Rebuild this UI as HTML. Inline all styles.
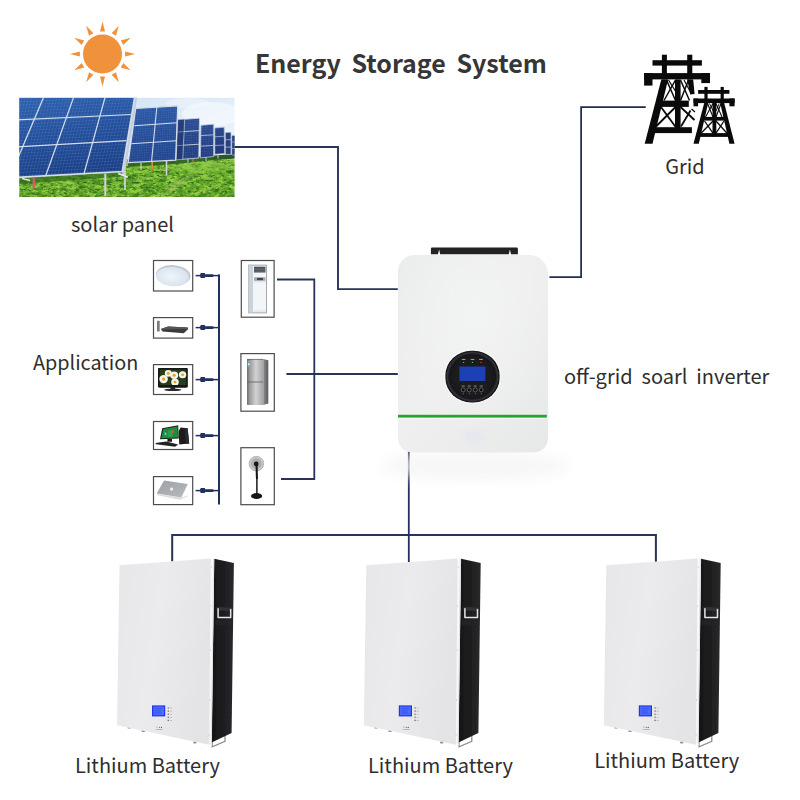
<!DOCTYPE html>
<html lang="en">
<head>
<meta charset="utf-8">
<title>Energy Storage System</title>
<style>
html,body{margin:0;padding:0;background:#fff;}
body{width:800px;height:800px;position:relative;overflow:hidden;font-family:"Noto Sans CJK SC","Liberation Sans",sans-serif;color:#2e2e2e;}
#stage{position:absolute;left:0;top:0;width:800px;height:800px;}
svg{position:absolute;left:0;top:0;display:block;}
.t{position:absolute;white-space:pre;line-height:1;font-size:20px;margin:0;}
.title{font-weight:700;font-size:25px;color:#363636;word-spacing:-0.4px;}
</style>
</head>
<body>
<div id="stage">
<svg width="800" height="800" viewBox="0 0 800 800">

<g id="sun" fill="#f0913b">
<circle cx="102.5" cy="54.0" r="19.5"/>
<polygon points="105.0,31.4 100.0,31.4 102.5,21.4"/>
<polygon points="116.0,35.7 111.6,33.2 118.8,25.8"/>
<polygon points="123.3,44.9 120.8,40.5 130.7,37.7"/>
<polygon points="125.1,56.5 125.1,51.5 135.1,54.0"/>
<polygon points="120.8,67.5 123.3,63.1 130.7,70.3"/>
<polygon points="111.6,74.8 116.0,72.3 118.8,82.2"/>
<polygon points="100.0,76.6 105.0,76.6 102.5,86.6"/>
<polygon points="89.0,72.3 93.4,74.8 86.2,82.2"/>
<polygon points="81.7,63.1 84.2,67.5 74.3,70.3"/>
<polygon points="79.9,51.5 79.9,56.5 69.9,54.0"/>
<polygon points="84.2,40.5 81.7,44.9 74.3,37.7"/>
<polygon points="93.4,33.2 89.0,35.7 86.2,25.8"/>
</g>
<defs>
<clipPath id="photoClip"><rect x="19.2" y="97.6" width="215.5" height="99.4"/></clipPath>
<linearGradient id="sky" x1="0" y1="0" x2="1" y2="1">
<stop offset="0" stop-color="#c9dff2"/><stop offset="0.5" stop-color="#dfecf7"/><stop offset="1" stop-color="#f6f9fc"/></linearGradient>
<linearGradient id="grass" x1="0" y1="0" x2="0" y2="1">
<stop offset="0" stop-color="#8ac443"/><stop offset="0.35" stop-color="#64a92c"/><stop offset="1" stop-color="#559a26"/></linearGradient>
<linearGradient id="pv1" x1="0" y1="0" x2="0.25" y2="1">
<stop offset="0" stop-color="#2f62b0"/><stop offset="0.5" stop-color="#24509c"/><stop offset="1" stop-color="#1b3f86"/></linearGradient>
<linearGradient id="pv2" x1="0" y1="0" x2="0.1" y2="1">
<stop offset="0" stop-color="#2b58a4"/><stop offset="1" stop-color="#20448c"/></linearGradient>
<linearGradient id="pv3" x1="0" y1="0" x2="0" y2="1">
<stop offset="0" stop-color="#2a4a90"/><stop offset="1" stop-color="#213a7a"/></linearGradient>
<filter id="soft" x="-2%" y="-2%" width="104%" height="104%"><feGaussianBlur stdDeviation="0.35"/></filter>
<filter id="grassTex" x="0" y="0" width="100%" height="100%" color-interpolation-filters="sRGB">
<feTurbulence type="fractalNoise" baseFrequency="0.3 0.42" numOctaves="3" seed="7" result="n"/>
<feColorMatrix in="n" type="matrix" values="0 0 0 0 0.64  0 0 0 0 0.85  0 0 0 0 0.30  3.0 0 0 0 -1.5" result="c"/>
<feComposite in="c" in2="SourceGraphic" operator="in"/>
</filter>
<filter id="grassTex2" x="0" y="0" width="100%" height="100%" color-interpolation-filters="sRGB">
<feTurbulence type="fractalNoise" baseFrequency="0.25 0.45" numOctaves="3" seed="23" result="n"/>
<feColorMatrix in="n" type="matrix" values="0 0 0 0 0.18  0 0 0 0 0.40  0 0 0 0 0.10  0 3.2 0 0 -1.6" result="c"/>
<feComposite in="c" in2="SourceGraphic" operator="in"/>
</filter>
<filter id="grassTex3" x="0" y="0" width="100%" height="100%" color-interpolation-filters="sRGB">
<feTurbulence type="fractalNoise" baseFrequency="0.07 0.16" numOctaves="2" seed="5" result="n"/>
<feColorMatrix in="n" type="matrix" values="0 0 0 0 0.17  0 0 0 0 0.43  0 0 0 0 0.09  0 0 3.4 0 -1.75" result="c"/>
<feComposite in="c" in2="SourceGraphic" operator="in"/>
</filter>
<filter id="grassTex4" x="0" y="0" width="100%" height="100%" color-interpolation-filters="sRGB">
<feTurbulence type="fractalNoise" baseFrequency="0.09 0.2" numOctaves="2" seed="41" result="n"/>
<feColorMatrix in="n" type="matrix" values="0 0 0 0 0.56  0 0 0 0 0.80  0 0 0 0 0.25  3.6 0 0 0 -1.55" result="c"/>
<feComposite in="c" in2="SourceGraphic" operator="in"/>
</filter>
<pattern id="cells" width="3.2" height="3.2" patternUnits="userSpaceOnUse" patternTransform="rotate(-3) skewX(-16)">
<path d="M0 0H3.2M0 0V3.2" stroke="#6b95d4" stroke-width="0.45" fill="none" opacity="0.75"/></pattern>
<pattern id="cells2" width="2.4" height="2.4" patternUnits="userSpaceOnUse" patternTransform="rotate(-3.5)">
<path d="M0 0H2.4M0 0V2.4" stroke="#6b95d4" stroke-width="0.4" fill="none" opacity="0.6"/></pattern>
</defs>
<g id="solarphoto" clip-path="url(#photoClip)"><g filter="url(#soft)">
<rect x="19.2" y="97.6" width="215.5" height="70" fill="url(#sky)"/>
<ellipse cx="212" cy="114" rx="30" ry="12" fill="#ffffff" opacity="0.45"/>
<ellipse cx="188" cy="103" rx="22" ry="5" fill="#ffffff" opacity="0.3"/>
<polygon points="125,160 176,158.5 200,156.5 234.7,154 234.7,158.5 200,161.5 176,163.5 125,166" fill="#2f5f24"/>
<rect x="19.2" y="159.3" width="215.5" height="40" fill="url(#grass)"/>
<rect x="19.2" y="159.3" width="215.5" height="40" fill="#fff" filter="url(#grassTex3)"/>
<rect x="19.2" y="159.3" width="215.5" height="40" fill="#fff" filter="url(#grassTex4)"/>
<rect x="19.2" y="159.3" width="215.5" height="40" fill="#fff" filter="url(#grassTex)"/>
<rect x="19.2" y="159.3" width="215.5" height="40" fill="#fff" filter="url(#grassTex2)"/>
<ellipse cx="176" cy="186" rx="16" ry="2.6" fill="#a9bf70" opacity="0.45" transform="rotate(-38 176 186)"/>
<ellipse cx="205" cy="167" rx="30" ry="5" fill="#93cb4a" opacity="0.45"/>
<polygon points="19.2,178 122,172.5 128,176 19.2,184" fill="#2f6a1e" opacity="0.7"/>
<polygon points="128,162 176,159.8 199,157.8 231,154.5 234.7,154.5 234.7,158.2 199,161.6 176,164 128,167" fill="#2a5a20" opacity="0.85"/>
<polygon points="231.7,135.5 236.0,135.4 236.0,155.0 231.7,155.0" fill="#2a447f"/>
<line x1="231.7" y1="142.0" x2="236.0" y2="142.0" stroke="#b9c6da" stroke-width="0.60"/>
<line x1="231.7" y1="148.5" x2="236.0" y2="148.5" stroke="#b9c6da" stroke-width="0.60"/>
<polygon points="231.7,135.5 236.0,135.4 236.0,155.0 231.7,155.0" fill="none" stroke="#b9c6da" stroke-width="0.6"/>
<polygon points="225.3,132.5 231.0,132.2 231.0,154.4 225.3,154.4" fill="#27427f"/>
<line x1="225.3" y1="139.8" x2="231.0" y2="139.6" stroke="#c3cfe0" stroke-width="0.70"/>
<line x1="225.3" y1="147.2" x2="231.0" y2="147.0" stroke="#c3cfe0" stroke-width="0.70"/>
<polygon points="225.3,132.5 231.0,132.2 231.0,154.4 225.3,154.4" fill="none" stroke="#c3cfe0" stroke-width="0.7"/>
<polygon points="214.8,128.0 224.2,127.2 224.7,153.6 214.8,154.3" fill="url(#pv3)"/>
<line x1="214.8" y1="136.8" x2="224.4" y2="136.2" stroke="#b9c6da" stroke-width="0.70"/>
<line x1="214.8" y1="145.5" x2="224.5" y2="145.0" stroke="#b9c6da" stroke-width="0.70"/>
<polygon points="214.8,128.0 224.2,127.2 224.7,153.6 214.8,154.3" fill="none" stroke="#b9c6da" stroke-width="0.7"/>
<polygon points="201.0,125.3 213.7,124.2 213.7,156.5 200.3,158.0" fill="url(#pv3)"/>
<polygon points="201.0,125.3 213.7,124.2 213.7,156.5 200.3,158.0" fill="url(#cells2)"/>
<line x1="200.8" y1="135.6" x2="213.7" y2="134.8" stroke="#bfcbde" stroke-width="0.80"/>
<line x1="200.5" y1="146.2" x2="213.7" y2="145.4" stroke="#bfcbde" stroke-width="0.80"/>
<polygon points="201.0,125.3 213.7,124.2 213.7,156.5 200.3,158.0" fill="none" stroke="#bfcbde" stroke-width="0.8"/>
<polygon points="177.7,119.7 199.5,118.2 198.8,158.0 176.2,159.8" fill="url(#pv3)"/>
<polygon points="177.7,119.7 199.5,118.2 198.8,158.0 176.2,159.8" fill="url(#cells2)"/>
<line x1="184.6" y1="119.3" x2="182.6" y2="159.4" stroke="#c6d1e2" stroke-width="0.90"/>
<line x1="177.3" y1="132.0" x2="199.3" y2="130.6" stroke="#c6d1e2" stroke-width="0.90"/>
<line x1="176.8" y1="145.6" x2="199.0" y2="144.2" stroke="#c6d1e2" stroke-width="0.90"/>
<polygon points="177.7,119.7 199.5,118.2 198.8,158.0 176.2,159.8" fill="none" stroke="#c6d1e2" stroke-width="0.9"/>
<polygon points="177.7,119.7 184.6,119.3 182.6,159.4 176.2,159.8" fill="#1a2c5e" opacity="0.45"/>
<line x1="188" y1="158.5" x2="188" y2="163.5" stroke="#c4cacf" stroke-width="1"/>
<line x1="193" y1="158.5" x2="193" y2="163.5" stroke="#d9745e" stroke-width="1"/>
<line x1="206" y1="157.5" x2="206" y2="161.5" stroke="#c4cacf" stroke-width="1"/>
<line x1="218" y1="154.5" x2="218" y2="158.5" stroke="#c4cacf" stroke-width="1"/>
<polygon points="135.7,108.5 177.7,105.8 175.6,160.2 128.2,162.5" fill="url(#pv2)"/>
<polygon points="135.7,108.5 177.7,105.8 175.6,160.2 128.2,162.5" fill="url(#cells2)"/>
<line x1="156.8" y1="107.2" x2="151.6" y2="161.3" stroke="#d3ddec" stroke-width="1.10"/>
<line x1="134.2" y1="125.8" x2="177.0" y2="122.8" stroke="#d3ddec" stroke-width="1.10"/>
<line x1="131.2" y1="143.8" x2="176.3" y2="140.8" stroke="#d3ddec" stroke-width="1.10"/>
<polygon points="135.7,108.5 177.7,105.8 175.6,160.2 128.2,162.5" fill="none" stroke="#d3ddec" stroke-width="1.2"/>
<line x1="152.2" y1="162" x2="152.2" y2="169.5" stroke="#e8893f" stroke-width="1.6"/>
<line x1="166.5" y1="161" x2="166.5" y2="175.5" stroke="#d4d8db" stroke-width="1.5"/>
<line x1="141" y1="162.5" x2="141" y2="170" stroke="#c9ced2" stroke-width="1.2"/>
<polygon points="134.6,97 137.2,97 124.6,176 121.8,176" fill="#c3ccd9"/>
<polygon points="14.0,97.0 134.7,97.0 122.2,171.5 14.0,177.5" fill="url(#pv1)"/>
<polygon points="14.0,97.0 134.7,97.0 122.2,171.5 14.0,177.5" fill="url(#cells)"/>
<line x1="43.5" y1="97.6" x2="17.5" y2="159.0" stroke="#d3ddec" stroke-width="1.25"/>
<line x1="73.5" y1="97.6" x2="45.7" y2="175.8" stroke="#d3ddec" stroke-width="1.25"/>
<line x1="105.0" y1="97.6" x2="84.0" y2="173.7" stroke="#d3ddec" stroke-width="1.25"/>
<line x1="14.0" y1="120.0" x2="130.9" y2="114.5" stroke="#d3ddec" stroke-width="1.25"/>
<line x1="14.0" y1="147.0" x2="126.4" y2="140.7" stroke="#d3ddec" stroke-width="1.25"/>
<polygon points="14.0,97.0 134.7,97.0 122.2,171.5 14.0,177.5" fill="none" stroke="#d3ddec" stroke-width="1.6"/>
<line x1="33.8" y1="177.5" x2="33.8" y2="188.5" stroke="#e2566a" stroke-width="2.2"/>
<line x1="105.3" y1="173.5" x2="105.3" y2="196" stroke="#cfd4d8" stroke-width="2"/>
<line x1="125" y1="171" x2="125" y2="190" stroke="#cdd2d6" stroke-width="1.8"/>
<polygon points="118.5,172.5 128,176.2 127.5,178 118,174.2" fill="#e6e9eb"/>
<line x1="22" y1="178.5" x2="30" y2="180.5" stroke="#dfe3e6" stroke-width="1.6"/>
</g></g>
<g id="wires" fill="none" stroke-linejoin="miter">
<path d="M234.6 147H338V289.1H397.8" stroke-width="1.9" stroke="#2a3455"/>
<path d="M549.4 277.2H581.1V107H645.8" stroke-width="1.75" stroke="#212d50"/>
<path d="M277 279.5H314.3V479H281" stroke-width="1.8" stroke="#283356"/>
<path d="M286.4 374H397.8" stroke-width="1.8" stroke="#283356"/>
<path d="M219 274.4V504.5" stroke-width="2.05" stroke="#212f5c"/>
<path d="M172.2 561.5V535.05H655.9V562" stroke-width="2" stroke="#2a3456"/>
<path d="M408.8 450V562" stroke-width="1.8" stroke="#262f5c"/>
</g>
<g id="plugs" fill="#223060" stroke="none">
<rect x="195.6" y="274.85" width="24" height="1.5"/>
<rect x="200.2" y="273.1" width="5.2" height="5" rx="1.3"/>
<rect x="205" y="274.2" width="8.6" height="2.8" rx="1.2"/>
<rect x="195.6" y="326.85" width="24" height="1.5"/>
<rect x="200.2" y="325.1" width="5.2" height="5" rx="1.3"/>
<rect x="205" y="326.2" width="8.6" height="2.8" rx="1.2"/>
<rect x="195.6" y="378.85" width="24" height="1.5"/>
<rect x="200.2" y="377.1" width="5.2" height="5" rx="1.3"/>
<rect x="205" y="378.2" width="8.6" height="2.8" rx="1.2"/>
<rect x="195.6" y="434.85" width="24" height="1.5"/>
<rect x="200.2" y="433.1" width="5.2" height="5" rx="1.3"/>
<rect x="205" y="434.2" width="8.6" height="2.8" rx="1.2"/>
<rect x="195.6" y="489.85" width="24" height="1.5"/>
<rect x="200.2" y="488.1" width="5.2" height="5" rx="1.3"/>
<rect x="205" y="489.2" width="8.6" height="2.8" rx="1.2"/>
</g>
<defs>
<linearGradient id="fridgeF" x1="0" y1="0" x2="1" y2="0"><stop offset="0" stop-color="#6e6e70"/><stop offset="0.18" stop-color="#9d9d9f"/><stop offset="0.55" stop-color="#d2d2d4"/><stop offset="1" stop-color="#a4a4a6"/></linearGradient>
<linearGradient id="fridgeS" x1="0" y1="0" x2="1" y2="0"><stop offset="0" stop-color="#8c8c8e"/><stop offset="1" stop-color="#5c5c5e"/></linearGradient>
<radialGradient id="lampG" cx="0.45" cy="0.5" r="0.6"><stop offset="0" stop-color="#eef4fa"/><stop offset="0.8" stop-color="#dbe5f0"/><stop offset="1" stop-color="#c9d2dc"/></radialGradient>
<radialGradient id="fanG" cx="0.5" cy="0.5" r="0.5"><stop offset="0" stop-color="#6e6e6e"/><stop offset="0.45" stop-color="#9a9a9a"/><stop offset="0.8" stop-color="#bdbdbd"/><stop offset="1" stop-color="#d6d6d6"/></radialGradient>
<linearGradient id="lapG" x1="0" y1="0" x2="1" y2="1"><stop offset="0" stop-color="#9ea2a6"/><stop offset="1" stop-color="#b6babd"/></linearGradient>
<filter id="soft2" x="-5%" y="-5%" width="110%" height="110%"><feGaussianBlur stdDeviation="0.3"/></filter>
</defs>
<g id="appliances">
<rect x="153.5" y="260.5" width="39.2" height="30.5" fill="#fff" stroke="#4c4c4c" stroke-width="1.2"/>
<rect x="153.5" y="317.6" width="39.2" height="20.5" fill="#fff" stroke="#4c4c4c" stroke-width="1.2"/>
<rect x="153.5" y="364.6" width="39.2" height="29.9" fill="#fff" stroke="#4c4c4c" stroke-width="1.2"/>
<rect x="153.5" y="421.5" width="39.2" height="28.0" fill="#fff" stroke="#4c4c4c" stroke-width="1.2"/>
<rect x="153.5" y="476.6" width="39.2" height="28.0" fill="#fff" stroke="#4c4c4c" stroke-width="1.2"/>
<rect x="241.3" y="260.5" width="32.8" height="56.7" fill="#fff" stroke="#4c4c4c" stroke-width="1.2"/>
<rect x="240.9" y="353.6" width="33.4" height="57.6" fill="#fff" stroke="#4c4c4c" stroke-width="1.2"/>
<rect x="240.9" y="447.7" width="33.4" height="57.0" fill="#fff" stroke="#4c4c4c" stroke-width="1.2"/>
<g filter="url(#soft2)">
<ellipse cx="173.2" cy="275.4" rx="17.3" ry="10.3" fill="#c4c8cc" transform="rotate(4 173.2 275.4)"/>
<ellipse cx="172.7" cy="276.6" rx="16.6" ry="9.6" fill="url(#lampG)" transform="rotate(4 172.7 276.6)"/>
<rect x="157" y="320.8" width="2.7" height="10.6" rx="0.5" fill="#7b7b7d"/>
<polygon points="160.9,328.9 168.1,326.6 187.6,327.5 188.2,328.9 183.8,333.3 162.5,331.5" fill="#3b3b3e"/>
<polygon points="160.9,328.9 168.1,326.6 187.6,327.5 188.2,328.9 162,329.6" fill="#55555a"/>
<rect x="158" y="368.1" width="29.8" height="19.4" rx="0.8" fill="#131313"/>
<rect x="159.6" y="369.6" width="26.6" height="15.4" fill="#2f4a22"/>
<rect x="159.6" y="369.6" width="26.6" height="15.4" fill="#1b2614" opacity="0.35"/>
<ellipse cx="163.6" cy="379.1" rx="4.3" ry="4.08" fill="#f4f4ee"/>
<circle cx="163.6" cy="379.1" r="1.63" fill="#e9a21a"/>
<ellipse cx="168.3" cy="373.4" rx="3.5" ry="3.32" fill="#f4f4ee"/>
<circle cx="168.3" cy="373.4" r="1.33" fill="#e9a21a"/>
<ellipse cx="174.2" cy="375.3" rx="4.0" ry="3.80" fill="#f4f4ee"/>
<circle cx="174.2" cy="375.3" r="1.52" fill="#e9a21a"/>
<ellipse cx="175" cy="382.1" rx="3.8" ry="3.61" fill="#f4f4ee"/>
<circle cx="175" cy="382.1" r="1.44" fill="#e9a21a"/>
<ellipse cx="182.6" cy="374.8" rx="3.7" ry="3.52" fill="#f4f4ee"/>
<circle cx="182.6" cy="374.8" r="1.41" fill="#e9a21a"/>
<rect x="159.6" y="385" width="26.6" height="2.5" fill="#131313"/>
<rect x="170.5" y="387.3" width="4.6" height="2" fill="#1d1d1d"/>
<ellipse cx="172.8" cy="389.8" rx="8.8" ry="1.3" fill="#2a2a2a"/>
<polygon points="162.2,428.2 178.2,425.3 178.8,438.6 160,439.2" fill="#16251a"/>
<polygon points="163.2,429 177.5,426.4 178,437.6 161.2,438.2" fill="#1f8c3e"/>
<polygon points="168,431 172.5,430.3 172.7,436.8 168.2,437.2" fill="#2aa350"/>
<rect x="171.4" y="429.8" width="2.3" height="3.2" fill="#d8524a"/>
<rect x="164.6" y="432.6" width="1.8" height="2.6" fill="#7fb7d8"/>
<polygon points="167.5,439 172,438.9 172,441.8 167.3,441.8" fill="#1b1b1b"/>
<polygon points="180.6,427.5 187.6,428.2 189.2,443.4 179.2,444.4 178.8,431" fill="#1b1b1d"/>
<polygon points="184.5,428 187.6,428.2 189.2,443.4 186,443.8" fill="#2c2c30"/>
<polygon points="155.3,442.9 166.3,441.5 178.2,444.4 175,446.7 156.2,444.2" fill="#222226"/>
<polygon points="156.8,494 181.3,497.8 187.8,495.6 188.5,496 180.2,499.8 157.4,495.2" fill="#d9dcdf"/>
<polygon points="164.1,480.4 187.8,484.1 181.3,497.6 156.6,493.5" fill="url(#lapG)"/>
<ellipse cx="171.6" cy="489.1" rx="1.4" ry="1.7" fill="#f4f4f4" transform="rotate(20 171.6 489.1)"/>
<rect x="248.4" y="265.1" width="18" height="47.8" fill="#f3f6f9" stroke="#8e949c" stroke-width="0.8"/>
<polygon points="248.4,265.1 253,266 253,312 248.4,312.9" fill="#ccd2da"/>
<rect x="254" y="266.7" width="11.4" height="5.8" fill="#474a50"/>
<path d="M254 268.2H265.4M254 269.7H265.4M254 271.2H265.4" stroke="#8d9096" stroke-width="0.45"/>
<rect x="254" y="277.3" width="11.4" height="3.5" fill="#a2a6ab"/>
<rect x="257" y="277.9" width="6" height="2.2" fill="#44474c"/>
<path d="M253.6 281.8H266M253.6 311H266" stroke="#c3c8ce" stroke-width="0.5"/>
<polygon points="263.2,359 268.3,360.2 268.3,403.4 263.2,405" fill="url(#fridgeS)"/>
<rect x="247" y="359" width="16.2" height="46" rx="0.8" fill="url(#fridgeF)"/>
<path d="M247 382H263.2" stroke="#5e5e60" stroke-width="0.8"/>
<path d="M247.2 359.4H263.2" stroke="#5a5a5c" stroke-width="0.7"/>
<rect x="247.6" y="361" width="2.4" height="6" rx="1" fill="#5fbfb4"/>
<rect x="248" y="363.6" width="1.6" height="1.4" fill="#f2f2f2"/>
<circle cx="256.4" cy="463.7" r="7.6" fill="url(#fanG)" opacity="0.8"/>
<circle cx="256.4" cy="463.7" r="7.3" fill="none" stroke="#8a8a8a" stroke-width="0.5"/>
<circle cx="256.4" cy="463.7" r="4.8" fill="none" stroke="#8a8a8a" stroke-width="0.4"/>
<circle cx="256.2" cy="463.9" r="2.3" fill="#141414"/>
<path d="M256.6 465.5L256.9 478" stroke="#121212" stroke-width="2.0" stroke-linecap="round"/>
<path d="M256.9 477V494.5" stroke="#141414" stroke-width="1.45"/>
<ellipse cx="256.6" cy="496" rx="5.6" ry="3" fill="#161616"/>
</g></g>
<defs>
<linearGradient id="invBody" x1="0" y1="0" x2="1" y2="1"><stop offset="0" stop-color="#eaebeb"/><stop offset="0.45" stop-color="#efefef"/><stop offset="1" stop-color="#e7e8e8"/></linearGradient>
<radialGradient id="invHi" cx="0.5" cy="0.3" r="0.6"><stop offset="0" stop-color="#f2f3f3"/><stop offset="1" stop-color="#f2f3f3" stop-opacity="0"/></radialGradient>
<radialGradient id="dispG" cx="0.5" cy="0.5" r="0.5"><stop offset="0" stop-color="#1d1d1f"/><stop offset="0.86" stop-color="#19191b"/><stop offset="0.93" stop-color="#34343a"/><stop offset="1" stop-color="#0e0e10"/></radialGradient>
<filter id="invShadow" x="-20%" y="-100%" width="140%" height="300%"><feGaussianBlur stdDeviation="7"/></filter>
<filter id="spot" x="-50%" y="-50%" width="200%" height="200%"><feGaussianBlur stdDeviation="2.5"/></filter>
<filter id="soft3" x="-5%" y="-5%" width="110%" height="110%"><feGaussianBlur stdDeviation="0.35"/></filter>
</defs>
<g id="inverter">
<ellipse cx="475" cy="466" rx="95" ry="14" fill="#f4f4f4" filter="url(#invShadow)" opacity="0.8"/>
<path d="M432 247.5H516.8Q517.9 247.5 517.9 248.7V254.2H511L509.9 249.6L508.8 254.2H440.2L439.1 249.6L438 254.2H430.9V248.7Q430.9 247.5 432 247.5Z" fill="#232325"/>
<path d="M414.5 254.9H529A19 19 0 0 1 548 273.9V438.6A13.8 13.8 0 0 1 534.2 452.4H411.8A13.8 13.8 0 0 1 398 438.6V271.4A16.5 16.5 0 0 1 414.5 254.9Z" fill="url(#invBody)"/>
<path d="M414.5 254.9H529A19 19 0 0 1 548 273.9V438.6A13.8 13.8 0 0 1 534.2 452.4H411.8A13.8 13.8 0 0 1 398 438.6V271.4A16.5 16.5 0 0 1 414.5 254.9Z" fill="url(#invHi)"/>
<ellipse cx="474" cy="437" rx="10" ry="7" fill="#e4e6ee" filter="url(#spot)" opacity="0.7"/>
<rect x="398" y="417.4" width="150" height="1.3" fill="#fafafa"/>
<rect x="398" y="414.8" width="148.8" height="2.8" fill="#26a52c"/>
<g filter="url(#soft3)">
<rect x="444.3" y="349.8" width="56.4" height="53.6" rx="27" ry="25.5" fill="#fbfbfb"/>
<rect x="445.4" y="350.8" width="54.2" height="51.6" rx="26" ry="24.5" fill="url(#dispG)"/>
<rect x="459.4" y="366.4" width="26" height="14.6" rx="0.6" fill="#1f3fb6"/>
<rect x="461.8" y="358.9" width="3.6" height="1" fill="#c8c8c8" opacity="0.8"/>
<rect x="470.7" y="358.9" width="3.6" height="1" fill="#c8c8c8" opacity="0.8"/>
<rect x="479.2" y="358.9" width="3.6" height="1" fill="#c8c8c8" opacity="0.8"/>
<circle cx="463.6" cy="362.4" r="0.7" fill="#39d34c"/><circle cx="472.5" cy="362.4" r="0.7" fill="#39d34c"/><circle cx="481" cy="362.4" r="0.7" fill="#e0432f"/>
<rect x="461.59999999999997" y="385.6" width="3.2" height="0.9" fill="#bdbdbd" opacity="0.75"/>
<circle cx="463.2" cy="389.9" r="2" fill="#0c0c0c" stroke="#8c8c8c" stroke-width="0.6"/>
<circle cx="463.2" cy="393.8" r="0.5" fill="#bbb" opacity="0.8"/>
<rect x="467.59999999999997" y="385.6" width="3.2" height="0.9" fill="#bdbdbd" opacity="0.75"/>
<circle cx="469.2" cy="389.9" r="2" fill="#0c0c0c" stroke="#8c8c8c" stroke-width="0.6"/>
<circle cx="469.2" cy="393.8" r="0.5" fill="#bbb" opacity="0.8"/>
<rect x="473.59999999999997" y="385.6" width="3.2" height="0.9" fill="#bdbdbd" opacity="0.75"/>
<circle cx="475.2" cy="389.9" r="2" fill="#0c0c0c" stroke="#8c8c8c" stroke-width="0.6"/>
<circle cx="475.2" cy="393.8" r="0.5" fill="#bbb" opacity="0.8"/>
<rect x="479.59999999999997" y="385.6" width="3.2" height="0.9" fill="#bdbdbd" opacity="0.75"/>
<circle cx="481.2" cy="389.9" r="2" fill="#0c0c0c" stroke="#8c8c8c" stroke-width="0.6"/>
<circle cx="481.2" cy="393.8" r="0.5" fill="#bbb" opacity="0.8"/>
</g>
</g>
<g id="towers" fill="#0a0a0a" stroke="none">
<rect x="661.9" y="54.7" width="5.0" height="24.7"/>
<rect x="687.2" y="54.7" width="5.1" height="24.7"/>
<rect x="652.5" y="60.2" width="49.4" height="5.4"/>
<rect x="644.1" y="73.1" width="65.9" height="6.3"/>
<rect x="644.1" y="73.1" width="8.4" height="12.5"/>
<rect x="701.3" y="73.1" width="8.7" height="10.0"/>
<polygon points="661.3,79.4 668.1,79.4 652.5,143.8 644.7,143.8"/>
<polygon points="687.2,79.4 693.2,79.4 694.6,94.0 690.2,94.5"/>
<rect x="675.0" y="79.4" width="5.6" height="53.6"/>
<rect x="660.0" y="100.6" width="28.8" height="6.3"/>
<rect x="653.7" y="127.2" width="38.2" height="5.9"/>
<line x1="666.5" y1="80.0" x2="675.5" y2="100.5" stroke="#0a0a0a" stroke-width="1.50"/>
<line x1="675.5" y1="80.0" x2="664.0" y2="100.5" stroke="#0a0a0a" stroke-width="1.50"/>
<line x1="668.5" y1="80.0" x2="676.0" y2="92.0" stroke="#0a0a0a" stroke-width="1.20"/>
<line x1="680.5" y1="80.0" x2="689.5" y2="100.5" stroke="#0a0a0a" stroke-width="1.50"/>
<line x1="688.5" y1="80.0" x2="680.5" y2="100.5" stroke="#0a0a0a" stroke-width="1.50"/>
<line x1="684.0" y1="80.0" x2="691.0" y2="93.0" stroke="#0a0a0a" stroke-width="1.20"/>
<line x1="661.0" y1="107.0" x2="676.0" y2="127.5" stroke="#0a0a0a" stroke-width="1.80"/>
<line x1="675.5" y1="107.0" x2="656.0" y2="126.5" stroke="#0a0a0a" stroke-width="1.80"/>
<line x1="680.5" y1="107.0" x2="694.5" y2="120.0" stroke="#0a0a0a" stroke-width="1.80"/>
<line x1="690.5" y1="110.5" x2="681.0" y2="126.5" stroke="#0a0a0a" stroke-width="1.80"/>
<line x1="691.5" y1="109.0" x2="695.0" y2="112.0" stroke="#0a0a0a" stroke-width="1.20"/>
<rect x="704.4" y="86.9" width="3.2" height="16.1"/>
<rect x="720.6" y="86.9" width="3.2" height="16.1"/>
<rect x="698.1" y="90.0" width="31.3" height="3.8"/>
<rect x="693.5" y="98.5" width="41.1" height="4.6"/>
<rect x="693.5" y="98.5" width="4.6" height="7.8"/>
<rect x="729.4" y="98.5" width="5.2" height="7.8"/>
<polygon points="704.2,103.0 708.2,103.0 698.8,143.8 693.5,143.8"/>
<polygon points="720.2,103.0 724.2,103.0 734.6,143.8 729.4,143.8"/>
<rect x="712.5" y="103.0" width="3.8" height="33.5"/>
<rect x="702.5" y="116.9" width="23.8" height="3.7"/>
<rect x="698.1" y="133.1" width="31.9" height="3.8"/>
<line x1="707.5" y1="103.5" x2="713.0" y2="117.0" stroke="#0a0a0a" stroke-width="1.10"/>
<line x1="713.0" y1="103.5" x2="705.5" y2="117.0" stroke="#0a0a0a" stroke-width="1.10"/>
<line x1="716.0" y1="103.5" x2="722.0" y2="117.0" stroke="#0a0a0a" stroke-width="1.10"/>
<line x1="721.0" y1="103.5" x2="716.0" y2="117.0" stroke="#0a0a0a" stroke-width="1.10"/>
<line x1="709.5" y1="103.5" x2="713.2" y2="111.0" stroke="#0a0a0a" stroke-width="0.90"/>
<line x1="719.2" y1="103.5" x2="716.0" y2="111.0" stroke="#0a0a0a" stroke-width="0.90"/>
<line x1="704.5" y1="121.0" x2="713.0" y2="133.2" stroke="#0a0a0a" stroke-width="1.30"/>
<line x1="713.0" y1="121.0" x2="701.0" y2="133.2" stroke="#0a0a0a" stroke-width="1.30"/>
<line x1="716.0" y1="121.0" x2="727.0" y2="133.2" stroke="#0a0a0a" stroke-width="1.30"/>
<line x1="724.0" y1="121.0" x2="716.0" y2="133.2" stroke="#0a0a0a" stroke-width="1.30"/>
</g>
<defs>
<linearGradient id="batF" x1="0" y1="0" x2="1" y2="0.3"><stop offset="0" stop-color="#e7e7ea"/><stop offset="0.5" stop-color="#ebebed"/><stop offset="1" stop-color="#e4e4e7"/></linearGradient>
<linearGradient id="batS" x1="0" y1="0" x2="1" y2="0"><stop offset="0" stop-color="#161617"/><stop offset="0.6" stop-color="#1f1f21"/><stop offset="1" stop-color="#2a2a2c"/></linearGradient>
<filter id="soft4" x="-5%" y="-5%" width="110%" height="110%"><feGaussianBlur stdDeviation="0.3"/></filter>
</defs>
<g id="batteries">
<g transform="translate(0 0)" filter="url(#soft4)">
<rect x="127.70000000000002" y="726.6" width="3.2" height="2" rx="0.6" fill="#8f9094"/>
<rect x="141.70000000000002" y="730" width="3.2" height="2" rx="0.6" fill="#8f9094"/>
<rect x="193.3" y="741.4" width="3.2" height="2" rx="0.6" fill="#8f9094"/>
<path d="M212.2 741V746.8L225 741.4V735.5" fill="none" stroke="#8e8f93" stroke-width="1.3"/>
<polygon points="214.2,558.8 233.9,563 231.6,733 211.6,742.4" fill="url(#batS)"/>
<polygon points="210.6,558.6 214.3,558.8 211.8,745.4 209,744.8" fill="#f8f8f9"/>
<line x1="213.6" y1="559" x2="211.2" y2="744" stroke="#c9c9cc" stroke-width="0.5"/>
<polygon points="119.5,565.2 210.8,558.6 209.2,744.8 117,725.2" fill="url(#batF)"/>
<circle cx="211.5" cy="567" r="0.45" fill="#8a8a8e"/>
<circle cx="211.0" cy="606" r="0.45" fill="#8a8a8e"/>
<circle cx="210.4" cy="650" r="0.45" fill="#8a8a8e"/>
<circle cx="209.8" cy="700" r="0.45" fill="#8a8a8e"/>
<circle cx="209.3" cy="735" r="0.45" fill="#8a8a8e"/>
<polygon points="216.6,606.8 232.2,607.8 232.1,611.2 216.6,610.2" fill="#333336"/>
<path d="M218.1 608.8V617.5H230.7V609.4" fill="none" stroke="#e3e4e6" stroke-width="1.5" stroke-linejoin="round" stroke-linecap="round"/>
<polygon points="215.5,619.5 232.2,620.5 232,626 215.4,625" fill="#262628" opacity="0.8"/>
<rect x="152" y="705.4" width="13.2" height="11" fill="#2432f2"/>
<rect x="153.2" y="706.6" width="10.8" height="8.6" fill="#4a6df6"/>
<path d="M154.5 708.6H162M154.5 710.8H160.5M154.5 713H161.5" stroke="#2a3cf0" stroke-width="0.6"/>
<circle cx="168.3" cy="708.0" r="0.8" fill="#77787c"/>
<rect x="169.8" y="707.7" width="2.2" height="0.6" fill="#a8a8ac"/>
<circle cx="168.3" cy="711.1" r="0.8" fill="#77787c"/>
<rect x="169.8" y="710.8" width="2.2" height="0.6" fill="#a8a8ac"/>
<circle cx="168.3" cy="714.2" r="0.8" fill="#77787c"/>
<rect x="169.8" y="713.9" width="2.2" height="0.6" fill="#a8a8ac"/>
<circle cx="168.3" cy="717.3" r="0.8" fill="#77787c"/>
<rect x="169.8" y="717.0" width="2.2" height="0.6" fill="#a8a8ac"/>
<circle cx="168.3" cy="720.4" r="0.8" fill="#77787c"/>
<rect x="169.8" y="720.1" width="2.2" height="0.6" fill="#a8a8ac"/>
<circle cx="157" cy="727" r="0.6" fill="#3bbf4a"/><circle cx="159.4" cy="727.2" r="0.55" fill="#444"/><circle cx="161.4" cy="727.4" r="0.55" fill="#444"/>
<rect x="155.6" y="729" width="7" height="0.6" fill="#9a9a9e" transform="rotate(3 155.6 729)"/>
</g>
<g transform="translate(246.8 0)" filter="url(#soft4)">
<rect x="127.70000000000002" y="726.6" width="3.2" height="2" rx="0.6" fill="#8f9094"/>
<rect x="141.70000000000002" y="730" width="3.2" height="2" rx="0.6" fill="#8f9094"/>
<rect x="193.3" y="741.4" width="3.2" height="2" rx="0.6" fill="#8f9094"/>
<path d="M212.2 741V746.8L225 741.4V735.5" fill="none" stroke="#8e8f93" stroke-width="1.3"/>
<polygon points="214.2,558.8 233.9,563 231.6,733 211.6,742.4" fill="url(#batS)"/>
<polygon points="210.6,558.6 214.3,558.8 211.8,745.4 209,744.8" fill="#f8f8f9"/>
<line x1="213.6" y1="559" x2="211.2" y2="744" stroke="#c9c9cc" stroke-width="0.5"/>
<polygon points="119.5,565.2 210.8,558.6 209.2,744.8 117,725.2" fill="url(#batF)"/>
<circle cx="211.5" cy="567" r="0.45" fill="#8a8a8e"/>
<circle cx="211.0" cy="606" r="0.45" fill="#8a8a8e"/>
<circle cx="210.4" cy="650" r="0.45" fill="#8a8a8e"/>
<circle cx="209.8" cy="700" r="0.45" fill="#8a8a8e"/>
<circle cx="209.3" cy="735" r="0.45" fill="#8a8a8e"/>
<polygon points="216.6,606.8 232.2,607.8 232.1,611.2 216.6,610.2" fill="#333336"/>
<path d="M218.1 608.8V617.5H230.7V609.4" fill="none" stroke="#e3e4e6" stroke-width="1.5" stroke-linejoin="round" stroke-linecap="round"/>
<polygon points="215.5,619.5 232.2,620.5 232,626 215.4,625" fill="#262628" opacity="0.8"/>
<rect x="152" y="705.4" width="13.2" height="11" fill="#2432f2"/>
<rect x="153.2" y="706.6" width="10.8" height="8.6" fill="#4a6df6"/>
<path d="M154.5 708.6H162M154.5 710.8H160.5M154.5 713H161.5" stroke="#2a3cf0" stroke-width="0.6"/>
<circle cx="168.3" cy="708.0" r="0.8" fill="#77787c"/>
<rect x="169.8" y="707.7" width="2.2" height="0.6" fill="#a8a8ac"/>
<circle cx="168.3" cy="711.1" r="0.8" fill="#77787c"/>
<rect x="169.8" y="710.8" width="2.2" height="0.6" fill="#a8a8ac"/>
<circle cx="168.3" cy="714.2" r="0.8" fill="#77787c"/>
<rect x="169.8" y="713.9" width="2.2" height="0.6" fill="#a8a8ac"/>
<circle cx="168.3" cy="717.3" r="0.8" fill="#77787c"/>
<rect x="169.8" y="717.0" width="2.2" height="0.6" fill="#a8a8ac"/>
<circle cx="168.3" cy="720.4" r="0.8" fill="#77787c"/>
<rect x="169.8" y="720.1" width="2.2" height="0.6" fill="#a8a8ac"/>
<circle cx="157" cy="727" r="0.6" fill="#3bbf4a"/><circle cx="159.4" cy="727.2" r="0.55" fill="#444"/><circle cx="161.4" cy="727.4" r="0.55" fill="#444"/>
<rect x="155.6" y="729" width="7" height="0.6" fill="#9a9a9e" transform="rotate(3 155.6 729)"/>
</g>
<g transform="translate(486.8 0)" filter="url(#soft4)">
<rect x="127.70000000000002" y="726.6" width="3.2" height="2" rx="0.6" fill="#8f9094"/>
<rect x="141.70000000000002" y="730" width="3.2" height="2" rx="0.6" fill="#8f9094"/>
<rect x="193.3" y="741.4" width="3.2" height="2" rx="0.6" fill="#8f9094"/>
<path d="M212.2 741V746.8L225 741.4V735.5" fill="none" stroke="#8e8f93" stroke-width="1.3"/>
<polygon points="214.2,558.8 233.9,563 231.6,733 211.6,742.4" fill="url(#batS)"/>
<polygon points="210.6,558.6 214.3,558.8 211.8,745.4 209,744.8" fill="#f8f8f9"/>
<line x1="213.6" y1="559" x2="211.2" y2="744" stroke="#c9c9cc" stroke-width="0.5"/>
<polygon points="119.5,565.2 210.8,558.6 209.2,744.8 117,725.2" fill="url(#batF)"/>
<circle cx="211.5" cy="567" r="0.45" fill="#8a8a8e"/>
<circle cx="211.0" cy="606" r="0.45" fill="#8a8a8e"/>
<circle cx="210.4" cy="650" r="0.45" fill="#8a8a8e"/>
<circle cx="209.8" cy="700" r="0.45" fill="#8a8a8e"/>
<circle cx="209.3" cy="735" r="0.45" fill="#8a8a8e"/>
<polygon points="216.6,606.8 232.2,607.8 232.1,611.2 216.6,610.2" fill="#333336"/>
<path d="M218.1 608.8V617.5H230.7V609.4" fill="none" stroke="#e3e4e6" stroke-width="1.5" stroke-linejoin="round" stroke-linecap="round"/>
<polygon points="215.5,619.5 232.2,620.5 232,626 215.4,625" fill="#262628" opacity="0.8"/>
<rect x="152" y="705.4" width="13.2" height="11" fill="#2432f2"/>
<rect x="153.2" y="706.6" width="10.8" height="8.6" fill="#4a6df6"/>
<path d="M154.5 708.6H162M154.5 710.8H160.5M154.5 713H161.5" stroke="#2a3cf0" stroke-width="0.6"/>
<circle cx="168.3" cy="708.0" r="0.8" fill="#77787c"/>
<rect x="169.8" y="707.7" width="2.2" height="0.6" fill="#a8a8ac"/>
<circle cx="168.3" cy="711.1" r="0.8" fill="#77787c"/>
<rect x="169.8" y="710.8" width="2.2" height="0.6" fill="#a8a8ac"/>
<circle cx="168.3" cy="714.2" r="0.8" fill="#77787c"/>
<rect x="169.8" y="713.9" width="2.2" height="0.6" fill="#a8a8ac"/>
<circle cx="168.3" cy="717.3" r="0.8" fill="#77787c"/>
<rect x="169.8" y="717.0" width="2.2" height="0.6" fill="#a8a8ac"/>
<circle cx="168.3" cy="720.4" r="0.8" fill="#77787c"/>
<rect x="169.8" y="720.1" width="2.2" height="0.6" fill="#a8a8ac"/>
<circle cx="157" cy="727" r="0.6" fill="#3bbf4a"/><circle cx="159.4" cy="727.2" r="0.55" fill="#444"/><circle cx="161.4" cy="727.4" r="0.55" fill="#444"/>
<rect x="155.6" y="729" width="7" height="0.6" fill="#9a9a9e" transform="rotate(3 155.6 729)"/>
</g>
</g>
</svg>
<div class="t title" style="left:254.9px;top:50.4px">Energy  Storage  System</div>
<div class="t " style="left:71px;top:214px">solar panel</div>
<div class="t " style="left:33px;top:351.8px;font-size:19.8px">Application</div>
<div class="t " style="left:564px;top:365.6px">off-grid  soarl  inverter</div>
<div class="t " style="left:665.2px;top:156px">Grid</div>
<div class="t " style="left:75px;top:755.2px">Lithium Battery</div>
<div class="t " style="left:368px;top:755.4px">Lithium Battery</div>
<div class="t " style="left:594.2px;top:750.3px">Lithium Battery</div>
</div>
</body>
</html>
